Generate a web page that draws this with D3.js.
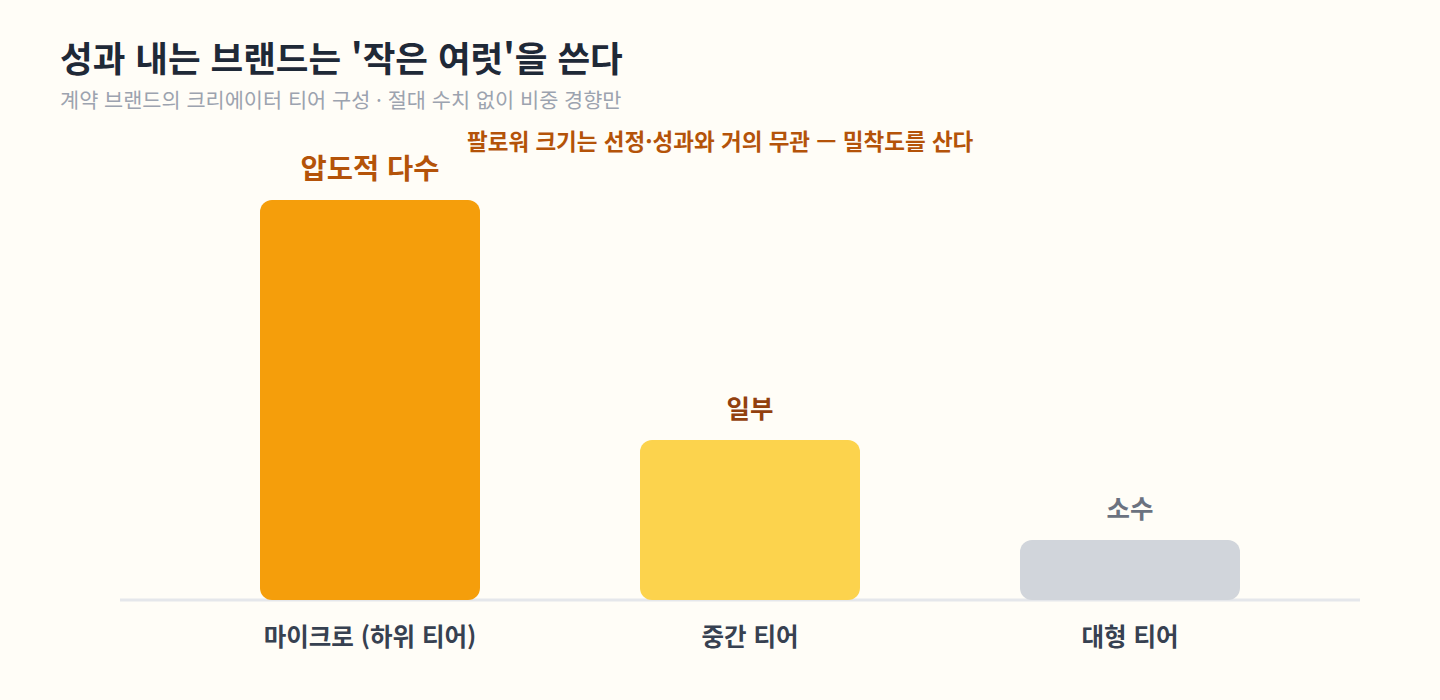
<!DOCTYPE html>
<html lang="ko">
<head>
<meta charset="utf-8">
<script src="https://cdn.jsdelivr.net/npm/d3@7"></script>
<style>
  html, body { margin: 0; padding: 0; background: #fffdf7; }
  svg { display: block; font-family: "Noto Sans CJK KR", "Noto Sans", sans-serif; }
</style>
</head>
<body>
<svg id="chart" width="1440" height="700"></svg>
<script>
// data (relative share, no absolute numbers given)
const tiers = ["마이크로 (하위 티어)", "중간 티어", "대형 티어"];
const shares = [100, 40, 15];
const shareLabels = ["압도적 다수", "일부", "소수"];
const barColors = ["#f59e0b", "#fcd34d", "#d1d5db"];
const labelColors = ["#b45309", "#92400e", "#6b7280"];

const width = 1440, height = 700;
const svg = d3.select("#chart");

// background
svg.append("rect").attr("width", width).attr("height", height).attr("fill", "#fffdf7");

// title + subtitle
svg.append("text")
    .attr("x", 60).attr("y", 72)
    .attr("font-size", 35.5).attr("font-weight", 700)
    .attr("fill", "#1f2937")
    .text("성과 내는 브랜드는 '작은 여럿'을 쓴다");

svg.append("text")
    .attr("x", 60).attr("y", 108)
    .attr("font-size", 20.8)
    .attr("fill", "#9ca3af")
    .text("계약 브랜드의 크리에이터 티어 구성 · 절대 수치 없이 비중 경향만");

//scales
const x = d3.scaleBand()
    .domain(tiers)
    .range([180, 1320])
    .paddingInner(160 / 380)
    .paddingOuter(80 / 380);

const y = d3.scaleLinear()
    .domain([0, 100])
    .range([600, 200]);

// baseline (drawn under the bars)
svg.append("line")
    .attr("x1", 120).attr("x2", 1360)
    .attr("y1", y(0)).attr("y2", y(0))
    .attr("stroke", "#e5e7eb")
    .attr("stroke-width", 3);

// bars
svg.selectAll(".bar")
    .data(shares)
    .join("rect")
    .attr("class", "bar")
    .attr("x", (d, i) => x(tiers[i]))
    .attr("y", d => y(d))
    .attr("width", x.bandwidth())
    .attr("height", d => y(0) - y(d))
    .attr("rx", 12)
    .attr("fill", (d, i) => barColors[i]);

// value labels above bars
svg.selectAll(".val")
    .data(shares)
    .join("text")
    .attr("class", "val")
    .attr("x", (d, i) => x(tiers[i]) + x.bandwidth() / 2)
    .attr("y", (d, i) => y(d) - (i === 0 ? 21 : 22))
    .attr("text-anchor", "middle")
    .attr("font-size", (d, i) => i === 0 ? 28.5 : 25.5)
    .attr("font-weight", 700)
    .attr("fill", (d, i) => labelColors[i])
    .text((d, i) => shareLabels[i]);

// category axis
const xAxis = d3.axisBottom(x).tickSize(0).tickPadding(0);
const gx = svg.append("g")
    .attr("transform", `translate(0, ${y(0)})`)
    .call(xAxis);
gx.select(".domain").remove();
gx.selectAll("text")
    .attr("y", 46)
    .attr("dy", 0)
    .attr("font-family", "Noto Sans CJK KR, Noto Sans, sans-serif")
    .attr("font-size", 24.5)
    .attr("font-weight", 700)
    .attr("fill", "#374151");

// annotation
svg.append("text")
    .attr("x", 467).attr("y", 150)
    .attr("font-size", 22.5)
    .attr("font-weight", 700)
    .attr("fill", "#b45309")
    .text("팔로워 크기는 선정·성과와 거의 무관 — 밀착도를 산다");
</script>
</body>
</html>
